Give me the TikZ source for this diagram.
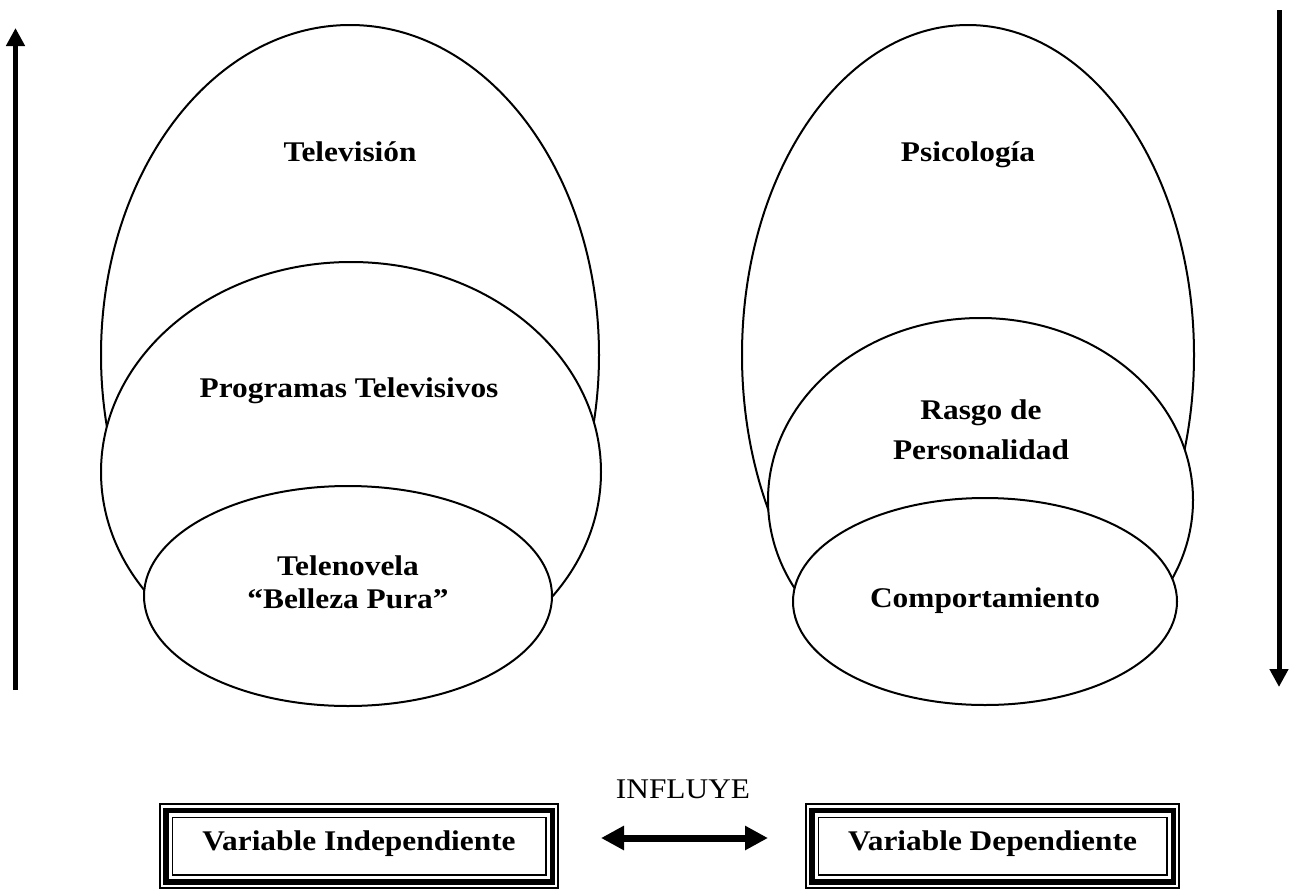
\documentclass[tikz,border=0pt]{standalone}
\usepackage{fontspec}
\setmainfont[FakeStretch=1.1]{Liberation Serif}
\usetikzlibrary{shapes.geometric,arrows.meta}
\tikzset{
  ell/.style={draw, line width=2pt, fill=white, ellipse, inner sep=0pt},
  lbl/.style={font=\fontsize{28.5}{35}\selectfont\bfseries, anchor=base, inner sep=0pt},
  plain/.style={font=\fontsize{28.5}{35}\selectfont, anchor=base, inner sep=0pt},
  tbox/.style={draw, line width=1.5pt, inner sep=0pt, minimum height=84pt,
    font=\fontsize{28.5}{35}\selectfont\bfseries, text height=20pt, text depth=12pt},
  midline/.style={line width=5.5pt},
  inline/.style={line width=1.5pt},
  varrow/.style={line width=5pt, -{Triangle[length=18pt,width=18pt]}},
  harrow/.style={line width=7pt, {Triangle[length=23pt,width=23pt]}-{Triangle[length=23pt,width=23pt]}}
}
\begin{document}
\begin{tikzpicture}[x=1pt,y=-1pt]
\useasboundingbox (0,0) rectangle (1294,892);
% left ellipses
\node[ell, minimum width=498pt, minimum height=660pt] (bigL) at (350,355) {};
\node[ell, minimum width=500pt, minimum height=420pt] (medL) at (351,472) {};
\node[ell, minimum width=408pt, minimum height=220pt] (smlL) at (348,596) {};
% right ellipses
\node[ell, minimum width=452pt, minimum height=660pt] (bigR) at (968,355) {};
\node[ell, minimum width=425pt, minimum height=364pt] (medR) at (980.5,500) {};
\node[ell, minimum width=384pt, minimum height=207pt] (smlR) at (985,601.5) {};
% labels
\node[lbl] (t1) at (350,161) {Televisión};
\node[lbl] (t2) at (349,397) {Programas Televisivos};
\node[lbl] (t3) at (348,575) {Telenovela};
\node[lbl] (t4) at (348,608) {“Belleza Pura”};
\node[lbl] (p1) at (968,161) {Psicología};
\node[lbl] (p2) at (981,419) {Rasgo de};
\node[lbl] (p3) at (981,459) {Personalidad};
\node[lbl] (p4) at (985,607) {Comportamiento};
% vertical arrows
\coordinate (la0) at (15.5,690);
\coordinate (la1) at (15.5,28);
\draw[varrow] (la0) -- (la1);
\coordinate (ra0) at (1279,10);
\coordinate (ra1) at (1279,687);
\draw[varrow] (ra0) -- (ra1);
% boxes
\node[tbox, minimum width=398pt] (vi) at (359,846) {Variable Independiente};
\draw[midline] ([shift={(6.5,7)}]vi.north west) rectangle ([shift={(-6.5,-7)}]vi.south east);
\draw[inline] ([shift={(13,14)}]vi.north west) rectangle ([shift={(-13,-14)}]vi.south east);
\node[tbox, minimum width=373pt] (vd) at (992.5,846) {Variable Dependiente};
\draw[midline] ([shift={(6.5,7)}]vd.north west) rectangle ([shift={(-6.5,-7)}]vd.south east);
\draw[inline] ([shift={(13,14)}]vd.north west) rectangle ([shift={(-13,-14)}]vd.south east);
% influye
\node[plain] (inf) at (683,798) {INFLUYE};
\coordinate (da0) at (601,838);
\coordinate (da1) at (768,838);
\draw[harrow] (da0) -- (da1);
\end{tikzpicture}
\end{document}
